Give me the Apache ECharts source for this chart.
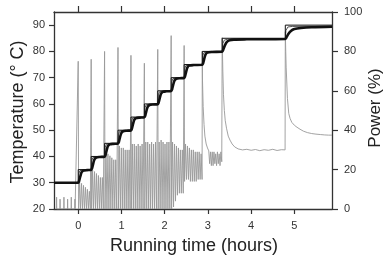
<!DOCTYPE html>
<html><head><meta charset="utf-8">
<script src="https://cdn.jsdelivr.net/npm/echarts@6/dist/echarts.min.js"></script>
<style>html,body{margin:0;padding:0;background:#fff}#c{width:390px;height:261px}</style>
</head><body><div id="c"></div>
<script>
// ---- ticks ----
const xTicks = [0, 1, 2, 3, 4, 5];
const tempTicks = [20, 30, 40, 50, 60, 70, 80, 90];
const powerTicks = [0, 20, 40, 60, 80, 100];

// ---- set-point (step) ----
const setTimes = [-0.56, 0, 0.30, 0.61, 0.92, 1.22, 1.53, 1.84, 2.15, 2.45, 2.87, 3.33, 4.79, 5.87];
const setTemps = [30, 35, 40, 45, 50, 55, 60, 65, 70, 75, 80, 85, 90, 90];

// ---- measured temperature (thick black) ----
const tempTimes = [-0.56, 0, 0.02, 0.05, 0.08, 0.12, 0.2, 0.30,
  0.32, 0.35, 0.38, 0.42, 0.5, 0.61,
  0.63, 0.66, 0.69, 0.73, 0.81, 0.92,
  0.94, 0.97, 1.00, 1.04, 1.12, 1.22,
  1.24, 1.27, 1.30, 1.34, 1.42, 1.53,
  1.55, 1.58, 1.61, 1.65, 1.73, 1.84,
  1.86, 1.89, 1.92, 1.96, 2.04, 2.15,
  2.17, 2.20, 2.23, 2.27, 2.35, 2.45,
  2.47, 2.50, 2.53, 2.57, 2.67, 2.87,
  2.89, 2.92, 2.95, 2.99, 3.1, 3.33,
  3.35, 3.39, 3.44, 3.50, 3.6, 3.9, 4.79,
  4.81, 4.86, 4.92, 5.0, 5.15, 5.4, 5.87];
const tempValues = [30, 30, 30.6, 32.5, 34, 34.6, 34.8, 34.9,
  35.5, 37.5, 39, 39.6, 39.8, 39.9,
  40.5, 42.5, 44, 44.6, 44.8, 44.9,
  45.5, 47.5, 49, 49.6, 49.8, 49.9,
  50.5, 52.5, 54, 54.6, 54.8, 54.9,
  55.5, 57.5, 59, 59.6, 59.8, 59.9,
  60.5, 62.5, 64, 64.6, 64.8, 64.9,
  65.5, 67.5, 69, 69.6, 69.8, 69.9,
  70.5, 72.5, 74, 74.6, 74.8, 74.9,
  75.5, 77.5, 79, 79.6, 79.8, 79.9,
  80.4, 82.2, 83.6, 84.2, 84.5, 84.6, 84.7,
  85.1, 86.6, 87.8, 88.5, 88.9, 89.2, 89.4];

// ---- fast sensor trace (dark grey, hugs set-point corners) ----
const fastTimes = [-0.56, 0, 0.015, 0.04, 0.1, 0.30,
  0.315, 0.34, 0.4, 0.61,
  0.625, 0.65, 0.71, 0.92,
  0.935, 0.96, 1.02, 1.22,
  1.235, 1.26, 1.32, 1.53,
  1.545, 1.57, 1.63, 1.84,
  1.855, 1.88, 1.94, 2.15,
  2.165, 2.19, 2.25, 2.45,
  2.465, 2.49, 2.55, 2.87,
  2.885, 2.91, 2.97, 3.33,
  3.345, 3.38, 3.45, 4.79,
  4.805, 4.85, 4.95, 5.87];
const fastValues = [30, 30, 33.5, 34.6, 34.85, 34.9,
  38.5, 39.6, 39.85, 39.9,
  43.5, 44.6, 44.85, 44.9,
  48.5, 49.6, 49.85, 49.9,
  53.5, 54.6, 54.85, 54.9,
  58.5, 59.6, 59.85, 59.9,
  63.5, 64.6, 64.85, 64.9,
  68.5, 69.6, 69.85, 69.9,
  73.5, 74.6, 74.85, 74.9,
  78.5, 79.6, 79.85, 79.9,
  83, 84.3, 84.6, 84.7,
  88, 89.3, 89.5, 89.6];

// ---- power (%) ----
const prePulseTimes = [-0.50, -0.42, -0.33, -0.245, -0.16, -0.076];
const prePulsePeaks = [6, 5, 6, 5, 6, 5];
const spikeTimes = [0, 0.30, 0.61, 0.92, 1.22, 1.53, 1.84, 2.15, 2.45];
const spikePeaks = [75, 76, 80, 82, 78, 74, 81, 88, 83];
const oscTops = [
  [14, 13, 12, 11, 10, 9],
  [20, 19, 18, 17, 16, 16],
  [29, 28, 27, 26, 25, 25],
  [32, 31, 31, 30, 30, 30],
  [33, 33, 32, 33, 32, 33],
  [34, 34, 33, 34, 33, 34],
  [34, 35, 34, 33, 34, 34],
  [34, 33, 32, 31, 30, 30],
  [33, 32, 31, 30, 30, 29, 29, 29, 28]
];
const oscLows = [
  [0, 0, 0, 0, 0, 0, 0],
  [0, 0, 0, 0, 0, 0, 0],
  [0, 0, 0, 0, 0, 0, 0],
  [0, 0, 0, 0, 0, 0, 0],
  [0, 0, 0, 0, 0, 0, 0],
  [0, 0, 0, 0, 0, 0, 0],
  [0, 0, 0, 0, 0, 0, 0],
  [0, 1, 4, 7, 8, 8, 8],
  [14, 15, 15, 14, 14, 14, 14, 15, 15, 15]
];
const powerSeg287 = [[2.87, 80], [2.875, 65], [2.89, 52], [2.91, 43], [2.93, 37], [2.96, 33], [2.99, 31], [3.02, 29.5],
  [3.04, 23], [3.06, 29], [3.08, 22], [3.10, 29], [3.12, 22], [3.14, 29], [3.16, 23], [3.18, 28], [3.20, 22],
  [3.22, 29], [3.24, 23], [3.26, 28], [3.28, 22], [3.30, 29], [3.32, 24]];
const powerSeg333 = [[3.33, 87], [3.345, 70], [3.36, 58], [3.38, 50], [3.40, 45], [3.43, 41], [3.47, 37], [3.51, 35],
  [3.56, 33], [3.62, 31.5], [3.7, 30.5], [3.8, 30], [3.9, 30.3], [4.0, 29.8], [4.1, 30.2], [4.2, 29.6],
  [4.3, 30.1], [4.4, 29.8], [4.5, 30.3], [4.6, 29.7], [4.7, 30.1], [4.785, 30]];
const powerSeg479 = [[4.79, 90], [4.80, 80], [4.81, 72], [4.84, 56], [4.87, 48.5], [4.90, 46], [4.94, 44], [5.0, 42.5],
  [5.06, 41.5], [5.13, 40.5], [5.21, 39.5], [5.3, 38.8], [5.4, 38.3], [5.5, 38], [5.6, 37.8], [5.7, 37.6],
  [5.79, 37.5], [5.87, 37.5]];

// ---- build series data ----
const setData = setTimes.map((t, i) => [t, setTemps[i]]);
const tempData = tempTimes.map((t, i) => [t, tempValues[i]]);
const fastData = fastTimes.map((t, i) => [t, fastValues[i]]);
const powerData = [];
prePulseTimes.forEach((t, i) => {
  powerData.push([t - 0.004, 0], [t, prePulsePeaks[i]], [t + 0.004, 0]);
});
const cycle = 0.045;
spikeTimes.forEach((t, i) => {
  powerData.push([t, spikePeaks[i]]);
  const tops = oscTops[i], lows = oscLows[i];
  for (let k = 0; k < lows.length; k++) {
    powerData.push([t + 0.01 + cycle * k, lows[k]]);
    if (k < tops.length) powerData.push([t + 0.01 + cycle * k + cycle / 2, tops[k]]);
  }
});
powerData.push(...powerSeg287, ...powerSeg333, ...powerSeg479);

const FONT = '"Liberation Sans", Arial, sans-serif';
const axisCol = '#333';
const chart = echarts.init(document.getElementById('c'), null, { renderer: 'canvas' });
chart.setOption({
  animation: false,
  backgroundColor: '#fff',
  grid: { left: 54, right: 58, top: 12, bottom: 52 },
  xAxis: [{
    type: 'value', min: -0.56, max: 5.87, position: 'bottom',
    axisLine: { show: true, onZero: false, lineStyle: { color: axisCol, width: 1.3 } },
    axisTick: { show: true, customValues: xTicks, length: 5, lineStyle: { color: axisCol, width: 1.2 } },
    axisLabel: { customValues: xTicks, margin: 11, fontSize: 11, color: '#333', fontFamily: FONT },
    splitLine: { show: false }
  }, {
    type: 'value', min: -0.56, max: 5.87, position: 'top',
    axisLine: { show: true, onZero: false, lineStyle: { color: axisCol, width: 1.3 } },
    axisTick: { show: true, customValues: xTicks, length: 6, lineStyle: { color: axisCol, width: 1.2 } },
    axisLabel: { show: false },
    splitLine: { show: false }
  }],
  yAxis: [{
    type: 'value', min: 20, max: 95, position: 'left',
    axisLine: { show: true, onZero: false, lineStyle: { color: axisCol, width: 1.3 } },
    axisTick: { show: true, customValues: tempTicks, length: 5, lineStyle: { color: axisCol, width: 1.2 } },
    axisLabel: { customValues: tempTicks, margin: 9, fontSize: 11, color: '#333', fontFamily: FONT },
    splitLine: { show: false }
  }, {
    type: 'value', min: 0, max: 100, interval: 20, position: 'right',
    axisLine: { show: true, onZero: false, lineStyle: { color: axisCol, width: 1.3 } },
    axisTick: { show: true, length: 6, lineStyle: { color: axisCol, width: 1.2 } },
    axisLabel: { margin: 12, fontSize: 11, color: '#333', fontFamily: FONT },
    splitLine: { show: false }
  }],
  graphic: [
    { type: 'text', x: 18, y: 112, rotation: Math.PI / 2,
      style: { text: 'Temperature (° C)', font: '18px ' + FONT, fill: '#222', align: 'center', verticalAlign: 'middle' } },
    { type: 'text', x: 375, y: 108, rotation: Math.PI / 2,
      style: { text: 'Power (%)', font: '17px ' + FONT, fill: '#222', align: 'center', verticalAlign: 'middle' } },
    { type: 'text', x: 194, y: 246,
      style: { text: 'Running time (hours)', font: '18px ' + FONT, fill: '#222', align: 'center', verticalAlign: 'middle' } }
  ],
  series: [{
    type: 'line', yAxisIndex: 1, data: powerData, showSymbol: false, symbol: 'none',
    lineStyle: { color: '#999', width: 0.9 }, z: 1
  }, {
    type: 'line', data: fastData, symbol: 'none',
    lineStyle: { color: '#555', width: 1 }, z: 2
  }, {
    type: 'line', data: setData, step: 'end', symbol: 'none',
    lineStyle: { color: '#111', width: 1 }, z: 3
  }, {
    type: 'line', data: tempData, symbol: 'none', smooth: 0.3,
    lineStyle: { color: '#111', width: 2.6 }, z: 4
  }]
});
</script>
</body></html>
